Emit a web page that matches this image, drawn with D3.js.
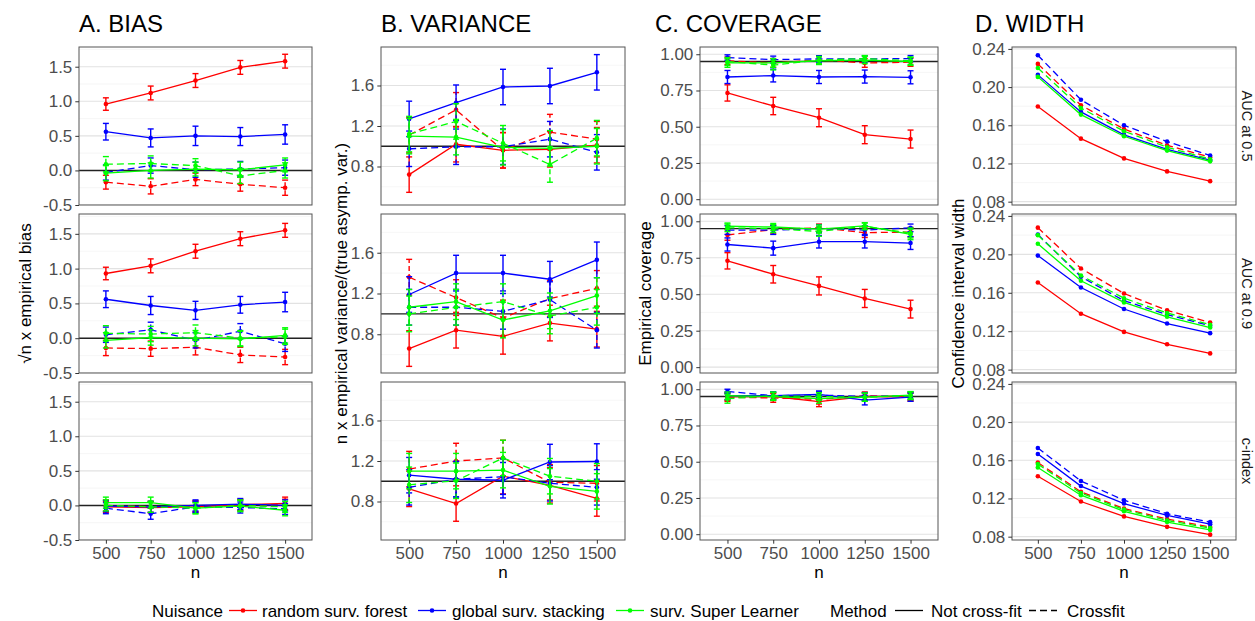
<!DOCTYPE html>
<html><head><meta charset="utf-8">
<script src="https://cdn.jsdelivr.net/npm/d3@7"></script>
<style>body{margin:0;background:#fff} svg{display:block;font-family:"Liberation Sans",Arial,sans-serif}</style>
</head><body><svg id="c" width="1255" height="621"></svg>
<script>
// ---------- data ----------
const nValues = [500, 750, 1000, 1250, 1500];
const nuisanceLabels = ["random surv. forest", "global surv. stacking", "surv. Super Learner"];
const methodLabels = ["Not cross-fit", "Crossfit"];
const rowLabels = ["AUC at 0.5", "AUC at 0.9", "c-index"];
const panelTitles = ["A. BIAS", "B. VARIANCE", "C. COVERAGE", "D. WIDTH"];
const yTitles = ["\u221An x empirical bias", "n x empirical variance/(true asymp. var.)", "Empirical coverage", "Confidence interval width"];
// series order in each table: [rsf NCF, rsf CF, gss NCF, gss CF, ssl NCF, ssl CF]
const seriesNuisance = [0, 0, 1, 1, 2, 2];
const seriesMethod = [0, 1, 0, 1, 0, 1];

const biasTicks = [-0.5, 0, 0.5, 1, 1.5];
const biasTickLabels = ["-0.5", "0.0", "0.5", "1.0", "1.5"];
const varTicks = [0.8, 1.2, 1.6];
const varTickLabels = ["0.8", "1.2", "1.6"];
const covTicks = [0, 0.25, 0.5, 0.75, 1];
const covTickLabels = ["0.00", "0.25", "0.50", "0.75", "1.00"];
const widthTicks = [0.08, 0.12, 0.16, 0.20, 0.24];
const widthTickLabels = ["0.08", "0.12", "0.16", "0.20", "0.24"];

const biasAUC05 = [
  [0.96, 1.12, 1.30, 1.49, 1.58],
  [-0.17, -0.23, -0.13, -0.20, -0.25],
  [0.56, 0.47, 0.50, 0.49, 0.52],
  [-0.03, 0.07, 0.01, 0.02, 0.04],
  [-0.04, 0.00, 0.02, 0.01, 0.08],
  [0.09, 0.10, 0.07, -0.08, 0.00]];
const biasAUC05Err = [
  [0.09, 0.10, 0.10, 0.10, 0.10],
  [0.10, 0.11, 0.09, 0.10, 0.11],
  [0.12, 0.13, 0.14, 0.13, 0.14],
  [0.11, 0.11, 0.11, 0.11, 0.11],
  [0.11, 0.11, 0.10, 0.11, 0.10],
  [0.11, 0.11, 0.10, 0.11, 0.11]];
const biasAUC09 = [
  [0.93, 1.04, 1.25, 1.43, 1.55],
  [-0.14, -0.15, -0.13, -0.24, -0.27],
  [0.56, 0.47, 0.40, 0.48, 0.52],
  [0.05, 0.12, -0.03, 0.10, -0.08],
  [-0.03, 0.01, 0.00, -0.01, 0.04],
  [0.07, 0.06, 0.08, 0.00, 0.02]];
const biasAUC09Err = [
  [0.09, 0.10, 0.10, 0.10, 0.10],
  [0.11, 0.11, 0.11, 0.11, 0.11],
  [0.12, 0.13, 0.13, 0.12, 0.14],
  [0.11, 0.11, 0.11, 0.11, 0.11],
  [0.11, 0.11, 0.11, 0.11, 0.11],
  [0.11, 0.11, 0.11, 0.11, 0.11]];
const biasCindex = [
  [-0.02, -0.03, -0.02, 0.01, 0.03],
  [0.00, -0.02, -0.01, 0.00, 0.01],
  [-0.01, -0.02, 0.00, 0.02, 0.00],
  [-0.04, -0.12, -0.02, -0.03, -0.05],
  [0.04, 0.04, -0.04, -0.01, -0.07],
  [0.00, -0.02, -0.04, 0.00, -0.02]];
const biasCindexErr = [
  [0.08, 0.08, 0.08, 0.08, 0.09],
  [0.08, 0.08, 0.08, 0.08, 0.08],
  [0.08, 0.08, 0.08, 0.08, 0.08],
  [0.08, 0.08, 0.08, 0.08, 0.08],
  [0.08, 0.08, 0.08, 0.08, 0.08],
  [0.08, 0.08, 0.08, 0.08, 0.08]];

const varAUC05 = [
  [0.72, 1.02, 0.96, 0.97, 1.01],
  [1.11, 1.36, 0.96, 1.14, 1.07],
  [1.27, 1.43, 1.585, 1.595, 1.73],
  [0.975, 0.995, 0.995, 1.07, 0.94],
  [1.10, 1.09, 0.99, 0.98, 1.00],
  [1.12, 1.245, 1.03, 0.82, 1.08]];
const varAUC05Err = [
  [0.175, 0.175, 0.175, 0.175, 0.175],
  [0.175, 0.17, 0.175, 0.175, 0.175],
  [0.175, 0.175, 0.175, 0.175, 0.175],
  [0.175, 0.175, 0.175, 0.175, 0.175],
  [0.175, 0.175, 0.175, 0.175, 0.175],
  [0.175, 0.175, 0.175, 0.175, 0.175]];
const varAUC09 = [
  [0.66, 0.84, 0.78, 0.91, 0.85],
  [1.36, 1.16, 0.96, 1.15, 1.25],
  [1.19, 1.40, 1.40, 1.34, 1.53],
  [1.065, 1.065, 1.025, 1.14, 0.84],
  [1.065, 1.12, 0.94, 1.03, 1.18],
  [1.00, 1.065, 1.12, 0.98, 1.065]];
const varAUC09Err = [
  [0.175, 0.175, 0.175, 0.175, 0.175],
  [0.175, 0.175, 0.175, 0.175, 0.175],
  [0.175, 0.175, 0.175, 0.175, 0.175],
  [0.175, 0.175, 0.175, 0.175, 0.175],
  [0.175, 0.175, 0.175, 0.175, 0.175],
  [0.175, 0.175, 0.175, 0.175, 0.175]];
const varCindex = [
  [0.925, 0.78, 1.05, 0.96, 0.83],
  [1.12, 1.20, 1.23, 0.99, 0.98],
  [1.06, 1.02, 1.01, 1.19, 1.195],
  [0.94, 1.02, 1.045, 0.98, 0.94],
  [1.10, 1.10, 1.11, 0.95, 0.90],
  [0.965, 1.005, 1.23, 1.05, 1.00]];
const varCindexErr = [
  [0.175, 0.175, 0.175, 0.175, 0.175],
  [0.175, 0.175, 0.175, 0.175, 0.175],
  [0.175, 0.175, 0.175, 0.175, 0.175],
  [0.175, 0.175, 0.175, 0.175, 0.175],
  [0.175, 0.175, 0.175, 0.175, 0.175],
  [0.175, 0.175, 0.175, 0.175, 0.175]];

const covAUC05 = [
  [0.733, 0.643, 0.562, 0.445, 0.415],
  [0.955, 0.94, 0.96, 0.94, 0.945],
  [0.843, 0.853, 0.843, 0.846, 0.841],
  [0.977, 0.963, 0.968, 0.968, 0.97],
  [0.94, 0.94, 0.955, 0.96, 0.95],
  [0.95, 0.925, 0.96, 0.97, 0.955]];
const covAUC05Err = [
  [0.056, 0.060, 0.062, 0.062, 0.062],
  [0.026, 0.03, 0.025, 0.03, 0.028],
  [0.045, 0.044, 0.045, 0.045, 0.045],
  [0.019, 0.024, 0.022, 0.022, 0.021],
  [0.03, 0.03, 0.026, 0.025, 0.027],
  [0.027, 0.033, 0.025, 0.021, 0.026]];
const covAUC09 = [
  [0.729, 0.637, 0.557, 0.471, 0.398],
  [0.906, 0.943, 0.956, 0.922, 0.926],
  [0.841, 0.816, 0.86, 0.86, 0.851],
  [0.94, 0.94, 0.95, 0.94, 0.955],
  [0.966, 0.961, 0.947, 0.968, 0.91],
  [0.955, 0.95, 0.93, 0.965, 0.92]];
const covAUC09Err = [
  [0.056, 0.060, 0.062, 0.062, 0.061],
  [0.036, 0.029, 0.025, 0.033, 0.032],
  [0.045, 0.048, 0.043, 0.043, 0.044],
  [0.03, 0.03, 0.027, 0.03, 0.026],
  [0.022, 0.024, 0.028, 0.022, 0.036],
  [0.026, 0.027, 0.032, 0.023, 0.034]];
const covCindex = [
  [0.95, 0.95, 0.915, 0.95, 0.95],
  [0.945, 0.94, 0.93, 0.955, 0.945],
  [0.955, 0.955, 0.965, 0.925, 0.945],
  [0.985, 0.955, 0.96, 0.95, 0.955],
  [0.955, 0.95, 0.935, 0.945, 0.96],
  [0.935, 0.955, 0.95, 0.945, 0.955]];
const covCindexErr = [
  [0.027, 0.027, 0.035, 0.027, 0.027],
  [0.028, 0.03, 0.032, 0.026, 0.028],
  [0.026, 0.026, 0.023, 0.033, 0.028],
  [0.015, 0.026, 0.024, 0.027, 0.026],
  [0.026, 0.027, 0.031, 0.028, 0.024],
  [0.031, 0.026, 0.027, 0.028, 0.026]];

const widthAUC05 = [
  [0.1796, 0.146, 0.1253, 0.1117, 0.1015],
  [0.2243, 0.181, 0.156, 0.139, 0.1266],
  [0.2128, 0.174, 0.150, 0.1348, 0.1235],
  [0.2334, 0.1867, 0.160, 0.143, 0.1284],
  [0.2107, 0.1712, 0.1485, 0.1335, 0.1222],
  [0.220, 0.178, 0.1538, 0.137, 0.1245]];
const widthAUC09 = [
  [0.1707, 0.1382, 0.1193, 0.1064, 0.0969],
  [0.2278, 0.1853, 0.1593, 0.1417, 0.129],
  [0.1987, 0.1655, 0.1431, 0.128, 0.118],
  [0.2207, 0.1766, 0.1518, 0.1372, 0.1256],
  [0.211, 0.1725, 0.150, 0.135, 0.1238],
  [0.22, 0.178, 0.1543, 0.139, 0.1267]];
const widthCindex = [
  [0.1433, 0.1168, 0.1012, 0.0903, 0.0821],
  [0.1577, 0.127, 0.1094, 0.0984, 0.09],
  [0.1666, 0.133, 0.1147, 0.1022, 0.0931],
  [0.1729, 0.1383, 0.1182, 0.104, 0.0952],
  [0.1524, 0.1234, 0.1066, 0.0953, 0.0871],
  [0.156, 0.1256, 0.1083, 0.097, 0.089]];

// ---------- styling / layout ----------
const colors = ["#FF0000", "#0000FF", "#00FF00"];
const dashes = [null, "7,4"];
const svg = d3.select("#c");
const cols = [{x0: 79, x1: 312}, {x0: 381, x1: 625}, {x0: 700, x1: 938}, {x0: 1012, x1: 1236}];
const rowsPix = [[47, 205], [214, 373], [382, 540]];

const metrics = [
  {vals: [biasAUC05, biasAUC09, biasCindex], errs: [biasAUC05Err, biasAUC09Err, biasCindexErr], dom: [-0.5, 1.785], ticks: biasTicks, labels: biasTickLabels, ref: 0, titleX: 79, yTitleX: 25.5},
  {vals: [varAUC05, varAUC09, varCindex], errs: [varAUC05Err, varAUC09Err, varCindexErr], dom: [0.42, 1.98], ticks: varTicks, labels: varTickLabels, ref: 1, titleX: 381, yTitleX: 341},
  {vals: [covAUC05, covAUC09, covCindex], errs: [covAUC05Err, covAUC09Err, covCindexErr], dom: [-0.04, 1.05], ticks: covTicks, labels: covTickLabels, ref: 0.95, titleX: 655, yTitleX: 645},
  {vals: [widthAUC05, widthAUC09, widthCindex], errs: null, dom: [0.0765, 0.242], ticks: widthTicks, labels: widthTickLabels, ref: null, titleX: 975, yTitleX: 958}
];

const defs = svg.append("defs");
const rowMid = (rowsPix[0][0] + rowsPix[2][1]) / 2;
const FONT = "Liberation Sans, Arial, sans-serif";

metrics.forEach((m, ci) => {
  const col = cols[ci];
  const x = d3.scalePoint().domain(nValues).range([col.x0, col.x1]).padding(0.6);
  svg.append("text").attr("x", m.titleX).attr("y", 32).attr("font-size", 24).attr("fill", "#000").text(panelTitles[ci]);
  svg.append("text").attr("transform", `translate(${m.yTitleX},${rowMid}) rotate(-90)`)
    .attr("text-anchor", "middle").attr("dy", "0.35em").attr("font-size", 17).attr("fill", "#000").text(yTitles[ci]);
  svg.append("text").attr("x", (col.x0 + col.x1) / 2).attr("y", 578).attr("text-anchor", "middle")
    .attr("font-size", 17).attr("fill", "#000").text("n");

  const step = m.ticks[1] - m.ticks[0];
  rowsPix.forEach((rp, ri) => {
    const y = d3.scaleLinear().domain(m.dom).range([rp[1], rp[0]]);
    const g = svg.append("g");
    const cid = `clip${ci}_${ri}`;
    defs.append("clipPath").attr("id", cid).append("rect")
      .attr("x", col.x0).attr("y", rp[0]).attr("width", col.x1 - col.x0).attr("height", rp[1] - rp[0]);
    const pg = g.append("g").attr("clip-path", `url(#${cid})`);
    const minors = d3.range(m.ticks[0] - step / 2, m.ticks[m.ticks.length - 1] + step, step)
      .filter(v => v > m.dom[0] && v < m.dom[1]);
    pg.selectAll(".mn").data(minors).enter().append("line")
      .attr("x1", col.x0).attr("x2", col.x1).attr("y1", d => y(d)).attr("y2", d => y(d))
      .attr("stroke", "#f0f0f0").attr("stroke-width", 0.6);
    pg.selectAll(".mj").data(m.ticks).enter().append("line")
      .attr("x1", col.x0).attr("x2", col.x1).attr("y1", d => y(d)).attr("y2", d => y(d))
      .attr("stroke", "#e2e2e2").attr("stroke-width", 1.1);
    if (m.ref !== null) {
      pg.append("line").attr("x1", col.x0).attr("x2", col.x1).attr("y1", y(m.ref)).attr("y2", y(m.ref))
        .attr("stroke", "#222").attr("stroke-width", 1.4);
    }
    const table = m.vals[ri];
    const errT = m.errs ? m.errs[ri] : null;
    const line = d3.line().x((d, i) => x(nValues[i])).y(d => y(d));
    table.forEach((vals, si) => {
      const c = colors[seriesNuisance[si]];
      const dash = dashes[seriesMethod[si]];
      const sg = pg.append("g");
      sg.append("path").attr("d", line(vals)).attr("fill", "none").attr("stroke", c)
        .attr("stroke-width", 1.3).attr("stroke-dasharray", dash);
      if (errT) {
        vals.forEach((v, i) => {
          const e = errT[si][i], xx = x(nValues[i]);
          sg.append("line").attr("x1", xx).attr("x2", xx).attr("y1", y(v - e)).attr("y2", y(v + e))
            .attr("stroke", c).attr("stroke-width", 1.4).attr("stroke-dasharray", dash ? "5,3" : null);
          [v - e, v + e].forEach(t => sg.append("line").attr("x1", xx - 3).attr("x2", xx + 3)
            .attr("y1", y(t)).attr("y2", y(t)).attr("stroke", c).attr("stroke-width", 1.4));
        });
      }
      sg.selectAll("circle").data(vals).enter().append("circle")
        .attr("cx", (d, i) => x(nValues[i])).attr("cy", d => y(d)).attr("r", 2.3).attr("fill", c);
    });
    g.append("rect").attr("x", col.x0).attr("y", rp[0]).attr("width", col.x1 - col.x0).attr("height", rp[1] - rp[0])
      .attr("fill", "none").attr("stroke", "#555").attr("stroke-width", 1);
    const ya = g.append("g").attr("transform", `translate(${col.x0},0)`)
      .call(d3.axisLeft(y).tickValues(m.ticks).tickFormat((d, i) => m.labels[i]).tickSize(3.7).tickPadding(3));
    ya.select(".domain").remove();
    ya.selectAll("line").attr("stroke", "#333");
    ya.selectAll("text").attr("font-size", 17).attr("fill", "#4D4D4D").attr("font-family", FONT);
    if (ri === 2) {
      const xa = g.append("g").attr("transform", `translate(0,${rp[1]})`)
        .call(d3.axisBottom(x).tickSize(3.7).tickPadding(3));
      xa.select(".domain").remove();
      xa.selectAll("line").attr("stroke", "#333");
      xa.selectAll("text").attr("font-size", 17).attr("fill", "#4D4D4D").attr("font-family", FONT);
    }
    if (ci === 3) {
      svg.append("text").attr("transform", `translate(1247,${(rp[0] + rp[1]) / 2}) rotate(90)`)
        .attr("text-anchor", "middle").attr("dy", "0.35em").attr("font-size", 14.5).attr("fill", "#1a1a1a")
        .text(rowLabels[ri]);
    }
  });
});

// ---------- legend ----------
const legY = 610.5, legBase = 616.5;
const lg = svg.append("g").attr("font-size", 17).attr("fill", "#000");
lg.append("text").attr("x", 152).attr("y", legBase).text("Nuisance");
const nuisKeyX = [243, 432, 630];
const nuisLabX = [262, 452, 650];
nuisanceLabels.forEach((lab, i) => {
  lg.append("line").attr("x1", nuisKeyX[i] - 14).attr("x2", nuisKeyX[i] + 14).attr("y1", legY).attr("y2", legY)
    .attr("stroke", colors[i]).attr("stroke-width", 1.3);
  lg.append("circle").attr("cx", nuisKeyX[i]).attr("cy", legY).attr("r", 2.3).attr("fill", colors[i]);
  lg.append("text").attr("x", nuisLabX[i]).attr("y", legBase).text(lab);
});
lg.append("text").attr("x", 830).attr("y", legBase).text("Method");
const methKeyX = [909, 1043];
const methLabX = [931, 1067];
methodLabels.forEach((lab, i) => {
  lg.append("line").attr("x1", methKeyX[i] - 14).attr("x2", methKeyX[i] + 14).attr("y1", legY).attr("y2", legY)
    .attr("stroke", "#000").attr("stroke-width", 1.3).attr("stroke-dasharray", dashes[i]);
  lg.append("text").attr("x", methLabX[i]).attr("y", legBase).text(lab);
});
</script></body></html>
